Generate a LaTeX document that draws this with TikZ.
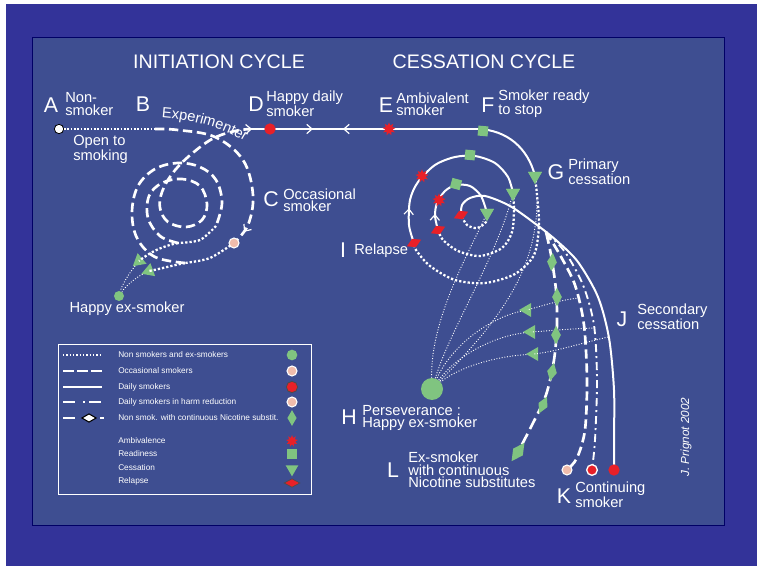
\documentclass[tikz,border=0pt]{standalone}
\usepackage{fontspec}
\setmainfont{Liberation Sans}
\usetikzlibrary{arrows.meta,decorations.markings,decorations.text,shapes.geometric}
\definecolor{outerblue}{RGB}{51,51,153}
\definecolor{panelblue}{RGB}{62,78,145}
\definecolor{mygreen}{RGB}{128,196,128}
\definecolor{myred}{RGB}{232,32,40}
\definecolor{mypink}{RGB}{240,188,172}
\newcommand{\chv}{\arrow{Straight Barb[length=4pt,width=7pt,line width=0.9pt]}}
\newcommand{\chvr}{\arrowreversed{Straight Barb[length=4pt,width=7pt,line width=0.9pt]}}
\tikzset{
  lab/.style={text=white, font=\fontsize{11}{9.2}\selectfont, align=left, inner sep=0pt, anchor=west},
  big/.style={text=white, font=\fontsize{16}{16}\selectfont, inner sep=0pt, anchor=base},
  ttl/.style={text=white, font=\fontsize{14.7}{15}\selectfont, inner sep=0pt},
  leg/.style={text=white, font=\fontsize{6.2}{6.2}\selectfont, inner sep=0pt, anchor=west},
  solidl/.style={white, line width=1.5pt},
  dashl/.style={white, line width=2pt, dash pattern=on 7pt off 3.5pt},
  dotl/.style={white, line width=1.7pt, dash pattern=on 1.7pt off 1.5pt},
  fdotl/.style={white, line width=1.1pt, dash pattern=on 1.1pt off 1.4pt},
  thindot/.style={white, line width=0.7pt, dash pattern=on 0.7pt off 1.3pt},
  dashdotl/.style={white, line width=1.4pt, dash pattern=on 6pt off 3pt on 1.5pt off 3pt},
  nicl/.style={white, line width=2pt, dash pattern=on 9pt off 4pt},
  chev/.style={postaction={decorate}, decoration={markings, mark=at position #1 with {\chv}}},
  gdot/.style={circle, fill=mygreen, inner sep=0pt, minimum size=7.5pt},
  bigdot/.style={circle, fill=mygreen, inner sep=0pt, minimum size=16.5pt},
  rdot/.style={circle, fill=myred, inner sep=0pt, minimum size=8.5pt},
  rwdot/.style={circle, fill=myred, draw=white, line width=1pt, inner sep=0pt, minimum size=8pt},
  pdot/.style={circle, fill=mypink, draw=white, line width=0.8pt, inner sep=0pt, minimum size=7.5pt},
  gsq/.style={rectangle, fill=mygreen, inner sep=0pt, minimum size=7.5pt},
  rstar/.style={star, star points=9, star point ratio=1.8, fill=myred, inner sep=0pt, minimum size=10pt},
  gdia/.style={diamond, fill=mygreen, inner sep=0pt, minimum width=7.5pt, minimum height=14pt},
  rdia/.style={diamond, fill=myred, inner sep=0pt, minimum width=12pt, minimum height=7pt, rotate=25},
  gtri/.style={regular polygon, regular polygon sides=3, shape border rotate=180, fill=mygreen, inner sep=0pt, minimum size=12pt},
}
\begin{document}
\begin{tikzpicture}[x=0.75pt,y=-0.75pt]
\useasboundingbox (0,0) rectangle (768,577);
\fill[white] (0,0) rectangle (768,577);
\fill[outerblue] (6,4) rectangle (757,566);
\filldraw[fill=panelblue, draw=black!60!blue, line width=0.6pt] (32,37) rectangle (724,525);

% titles
\node[ttl] (tInit) at (219,62) {INITIATION CYCLE};
\node[ttl] (tCess) at (484,62) {CESSATION CYCLE};

% ---------- initiation cycle ----------
\coordinate (B) at (155,129);
\coordinate (Cc) at (234,243);
\coordinate (Q1) at (185,263);
\coordinate (Q2) at (216,226);
\coordinate (Q3) at (178,243);
\coordinate (Darm) at (252,129);
\node[circle, fill=white, draw=black, line width=0.6pt, inner sep=0pt, minimum size=7pt] (nA) at (59,129) {};
\draw[fdotl] (nA) -- (B);
\draw[dashl, chev=0.92] plot[smooth, tension=0.6] coordinates {(B) (178,130) (215,137) (243,160) (253,195) (248,225) (Cc)};
\draw[dotl] plot[smooth] coordinates {(Cc) (210,258) (Q1)};
\draw[dashl] plot[smooth, tension=0.6] coordinates {(Q1) (155,257) (137,238) (132,212) (138,186) (155,169) (178,163) (200,167) (216,180) (222,203) (Q2)};
\draw[dotl] plot[smooth] coordinates {(Q2) (200,240) (Q3)};
\draw[dashl, -{Straight Barb[length=4pt,width=7pt,line width=0.9pt]}] plot[smooth, tension=0.6] coordinates {(Q3) (160,236) (148,218) (149,196) (162,183) (182,179) (200,186) (207,204) (202,220) (186,227) (168,222) (160,208) (162,192) (172,174) (188,157) (212,139) (235,131) (Darm)};
\node[gtri, rotate=-50] (ti1) at (139,261) {};
\node[gtri, rotate=-70] (ti2) at (149,271) {};
\node[gdot] (exs) at (119,296) {};
\draw[dotl] (Q3) .. controls (163,246) and (150,252) .. (ti1.center);
\draw[dotl] (Q1) .. controls (170,266) and (160,269) .. (ti2.center);
\draw[thindot] (ti1) .. controls (128,275) and (122,285) .. (exs);
\draw[thindot] (ti2) .. controls (135,278) and (125,287) .. (exs);
\node[pdot] (nC) at (Cc) {};
\path[decorate, decoration={text along path, text align=center, text={|\fontsize{11}{11}\selectfont\color{white}|Experimenter}}] (155,117) .. controls (185,118) and (222,126) .. (250,145);

% ---------- cessation cycle ----------
\coordinate (Dline) at (250,129);
\coordinate (Fline) at (478,129);
\node[gtri] (gT) at (535,176) {};
\node[gtri] (t2c) at (513,193) {};
\node[gtri] (t3c) at (487,213) {};
\coordinate (rd1) at (414,243);
\coordinate (rd2) at (438,230);
\coordinate (rd3) at (461,215);
\coordinate (Kr) at (614,470);
\coordinate (Kw) at (592,470);
\coordinate (Kp) at (567,470);
\coordinate (S0) at (546,232);
\coordinate (Ldia) at (518,452);
\node[bigdot] (Hd) at (432,389) {};

\draw[solidl, postaction={decorate}, decoration={markings, mark=at position 0.276 with {\chv}, mark=at position 0.408 with {\chvr}}] (Dline) -- (Fline);
\draw[solidl] (Fline) .. controls (507,130) and (528,148) .. (gT.center);
\draw[dotl] plot[smooth] coordinates {(gT.center) (537,195) (539,225) (534,255) (515,274) (485,283) (455,280) (430,266) (416,250) (rd1)};
\draw[solidl, chev=0.19] plot[smooth] coordinates {(rd1) (409,225) (410,200) (418,182) (435,165) (455,157) (475,156) (495,163) (508,177) (t2c.center)};
\draw[dotl] plot[smooth] coordinates {(t2c.center) (514,210) (512,232) (502,248) (480,256) (458,251) (443,240) (rd2)};
\draw[solidl, chev=0.16] plot[smooth] coordinates {(rd2) (435,216) (437,203) (445,191) (456,185) (470,186) (481,196) (t3c.center)};
\draw[dotl] plot[smooth] coordinates {(t3c.center) (486,222) (477,228) (467,225) (rd3)};
\draw[solidl] plot[smooth] coordinates {(rd3) (462,205) (470,198) (485,196) (510,206) (537,225) (557,241) (578,262) (598,297) (609,338) (614,390) (614,440) (Kr)};
\draw[nicl] plot[smooth] coordinates {(S0) (551,255) (556,290) (557,325) (554,360) (546,395) (532,425) (Ldia)};
\draw[dashl] plot[smooth] coordinates {(S0) (560,255) (575,285) (584,325) (587,380) (585,430) (577,458) (Kp)};
\draw[dashdotl] plot[smooth] coordinates {(S0) (565,252) (583,285) (594,325) (597,380) (595,440) (Kw)};

% secondary cessation branches
\coordinate (o1) at (579,298);
\coordinate (o2) at (595,328);
\coordinate (o3) at (608,337);
\node[gtri, rotate=-90] (j1) at (527,310) {};
\node[gtri, rotate=-90] (j2) at (531,332) {};
\node[gtri, rotate=-90] (j3) at (534,354) {};
\draw[thindot] (o1) .. controls (560,300) and (545,305) .. (j1.center);
\draw[thindot] (o2) .. controls (565,329) and (548,331) .. (j2.center);
\draw[thindot] (o3) .. controls (575,345) and (553,352) .. (j3.center);
\draw[thindot] (j1) .. controls (490,318) and (452,345) .. (Hd);
\draw[thindot] (j2) .. controls (490,337) and (455,358) .. (Hd);
\draw[thindot] (j3) .. controls (492,357) and (458,368) .. (Hd);
\draw[thindot] (Hd) .. controls (430,320) and (470,250) .. (t3c);
\draw[thindot] (Hd) .. controls (450,330) and (495,260) .. (t2c);
\draw[thindot] (Hd) .. controls (500,320) and (537,270) .. (537,200);

% markers
\node[rdot] (mD) at (270,129) {};
\node[rstar] (mE) at (389,129) {};
\node[gsq, rotate=-5] (mF) at (483,131) {};
\node[rstar] (mE2) at (422,176) {};
\node[gsq, rotate=-5] (mF2) at (470,155) {};
\node[rstar] (mE3) at (439,200) {};
\node[gsq, rotate=-15] (mF3) at (456,184) {};
\node[rdia] (mR1) at (rd1) {};
\node[rdia] (mR2) at (rd2) {};
\node[rdia] (mR3) at (rd3) {};
\node[gtri] (gT2) at (gT) {};
\node[gtri] (t2c2) at (t2c) {};
\node[gtri] (t3c2) at (t3c) {};
\node[gdia, rotate=-5] (d1) at (552,262) {};
\node[gdia] (d2) at (557,297) {};
\node[gdia] (d3) at (556,335) {};
\node[gdia, rotate=-12] (d4) at (552,372) {};
\node[gdia, rotate=-25] (d5) at (543,405) {};
\node[gdia, rotate=-35, minimum width=9pt, minimum height=17pt] (d6) at (Ldia) {};
\node[pdot] (nKp) at (Kp) {};
\node[rwdot] (nKw) at (Kw) {};
\node[rdot] (nKr) at (Kr) {};

% labels
\node[big] (lA) at (51,113) {A};
\node[lab] (tA) at (65,104) {Non-\\smoker};
\node[big] (lB) at (143,112) {B};
\node[lab] (tOpen) at (73,149) {Open to\\smoking};
\node[big] (lD) at (256,112) {D};
\node[lab] (tD) at (266,104) {Happy daily\\smoker};
\node[big] (lE) at (386,113) {E};
\node[lab] (tE) at (396,104) {Ambivalent\\smoker};
\node[big] (lF) at (488,113) {F};
\node[lab] (tF) at (498,104) {Smoker ready\\to stop};
\node[big] (lG) at (556,180) {G};
\node[lab] (tG) at (568,172) {Primary\\cessation};
\node[big] (lC) at (271,207) {C};
\node[lab] (tC) at (283,200) {Occasional\\smoker};
\node[lab, anchor=center] (tHx) at (127,309) {Happy ex-smoker};
\node[big] (lI) at (343,258) {I};
\node[lab] (tI) at (354,251) {Relapse};
\node[big] (lJ) at (622,327) {J};
\node[lab] (tJ) at (637,317) {Secondary\\cessation};
\node[big] (lH) at (349,425) {H};
\node[lab] (tH) at (362,418) {Perseverance :\\Happy ex-smoker};
\node[big] (lL) at (393,477) {L};
\node[lab] (tL) at (408,470) {Ex-smoker\\with continuous\\Nicotine substitutes};
\node[big] (lK) at (564,503) {K};
\node[lab] (tK) at (575,495) {Continuing\\smoker};
\node[text=white, font=\itshape\fontsize{8.8}{8.8}\selectfont, rotate=90, inner sep=0pt] (sig) at (686,437) {J. Prignot 2002};

% legend
\draw[white, line width=0.6pt] (58,344) rectangle (311,494);
\draw[white, line width=1pt, dash pattern=on 1pt off 1.5pt] (63,355) -- (102,355);
\draw[white, line width=2pt, dash pattern=on 8pt off 2.5pt] (63,371) -- (102,371);
\draw[white, line width=2pt] (63,387) -- (102,387);
\draw[white, line width=2pt, dash pattern=on 9pt off 6pt on 1.5pt off 3pt] (63,402) -- (104,402);
\draw[white, line width=2pt] (63,418) -- (75,418);
\draw[white, line width=2pt] (100,418) -- (104,418);
\node[diamond, fill=white, draw=black, line width=0.8pt, inner sep=0pt, minimum width=11pt, minimum height=6.5pt] (lgd) at (89,418) {};
\node[leg] (g1) at (118,355) {Non smokers and ex-smokers};
\node[leg] (g2) at (118,371) {Occasional smokers};
\node[leg] (g3) at (118,387) {Daily smokers};
\node[leg] (g4) at (118,402) {Daily smokers in harm reduction};
\node[leg] (g5) at (118,418) {Non smok. with continuous Nicotine substit.};
\node[leg] (g6) at (118,441) {Ambivalence};
\node[leg] (g7) at (118,454) {Readiness};
\node[leg] (g8) at (118,468) {Cessation};
\node[leg] (g9) at (118,481) {Relapse};
\node[gdot, minimum size=8pt] (s1) at (292,355) {};
\node[pdot] (s2) at (292,371) {};
\node[circle, fill=myred, draw=black!70, line width=0.6pt, inner sep=0pt, minimum size=8.5pt] (s3) at (292,387) {};
\node[pdot] (s4) at (292,402) {};
\node[gdia, minimum width=7pt, minimum height=12pt] (s5) at (292,418) {};
\node[rstar, minimum size=9pt] (s6) at (292,441) {};
\node[gsq, minimum size=7pt] (s7) at (292,454) {};
\node[gtri, minimum size=11pt] (s8) at (292,469) {};
\node[diamond, fill=myred, draw=black!70, line width=0.5pt, inner sep=0pt, minimum width=12pt, minimum height=6.5pt] (s9) at (292,483) {};
\end{tikzpicture}
\end{document}
